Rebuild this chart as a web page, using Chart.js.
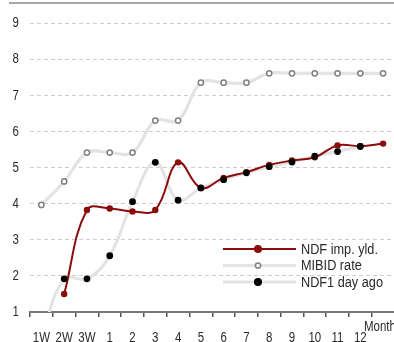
<!DOCTYPE html>
<html>
<head>
<meta charset="utf-8">
<script src="https://cdn.jsdelivr.net/npm/chart.js@4.4.1/dist/chart.umd.min.js"></script>
<style>
  html, body { margin: 0; padding: 0; background: #fff; overflow: hidden; width: 394px; height: 342px; }
  #wrap { position: relative; width: 400px; height: 342px; }
</style>
</head>
<body>
<div id="wrap"><canvas id="chart" width="400" height="342"></canvas></div>
<script>
// Tenor buckets along the curve (last slot sits under the "Month" caption)
const tenors = ['1W', '2W', '3W', '1', '2', '3', '4', '5', '6', '7', '8', '9', '10', '11', '12', ''];

// Yields, %
const ndfImpYld  = [null, 1.50, 3.83, 3.87, 3.79, 3.83, 5.15, 4.44, 4.72, 4.88, 5.08, 5.20, 5.29, 5.62, 5.60, 5.67];
const mibidRate  = [3.97, 4.62, 5.42, 5.42, 5.42, 6.31, 6.31, 7.36, 7.36, 7.36, 7.62, 7.62, 7.62, 7.62, 7.62, 7.62];
const ndf1DayAgo = [0.30, 1.92, 1.92, 2.56, 4.06, 5.15, 4.10, 4.44, 4.67, 4.86, 5.03, 5.16, 5.32, 5.45, 5.59, null];

const yMin = 1, yMax = 9.5, yStep = 1;

const RED = '#8b0c0c';
const LIGHT = '#e3e3e3';
const MARK_GREY = '#808080';
const FONT = "'Liberation Sans', Arial, sans-serif";
const TEXT = '#2a2a2a';
const NARROW = 0.82;   // horizontal squeeze giving a narrow face

const legendItems = [
  { text: 'NDF imp. yld.', line: RED,   lineWidth: 2, fill: RED,    stroke: RED },
  { text: 'MIBID rate',    line: LIGHT, lineWidth: 3, fill: '#fff', stroke: MARK_GREY },
  { text: 'NDF1 day ago',  line: LIGHT, lineWidth: 3, fill: '#000', stroke: '#000' }
];

const canvas = document.getElementById('chart');
const ctx2d = canvas.getContext('2d');

// Draw every label condensed, anchored at its own position
(function condenseText(ctx) {
  const orig = ctx.fillText.bind(ctx);
  ctx.fillText = function (text, x, y, maxWidth) {
    ctx.save();
    ctx.translate(x, y);
    ctx.scale(NARROW, 1);
    if (maxWidth === undefined || maxWidth === null) orig(text, 0, 0);
    else orig(text, 0, 0, maxWidth / NARROW);
    ctx.restore();
  };
})(ctx2d);

// Rule above the plot, inline legend and the "Month" caption
const decorations = {
  id: 'decorations',
  afterDraw(chart) {
    const ctx = chart.ctx;
    ctx.save();
    ctx.strokeStyle = '#a8a8a8';
    ctx.lineWidth = 2;
    ctx.beginPath();
    ctx.moveTo(9, 3);
    ctx.lineTo(chart.width, 3);
    ctx.stroke();

    ctx.font = '15.5px ' + FONT;
    ctx.textBaseline = 'middle';
    ctx.textAlign = 'left';
    legendItems.forEach((it, i) => {
      const y = 249 + i * 16.5;
      ctx.strokeStyle = it.line;
      ctx.lineWidth = it.lineWidth;
      ctx.beginPath();
      ctx.moveTo(223, y);
      ctx.lineTo(296, y);
      ctx.stroke();
      ctx.beginPath();
      ctx.arc(258, y, i === 1 ? 2.6 : 3.3, 0, Math.PI * 2);
      ctx.fillStyle = it.fill;
      ctx.fill();
      ctx.lineWidth = 1.5;
      ctx.strokeStyle = it.stroke;
      ctx.stroke();
      ctx.fillStyle = TEXT;
      ctx.fillText(it.text, 301, y + 0.5);
    });

    ctx.font = '14px ' + FONT;
    ctx.textBaseline = 'alphabetic';
    ctx.fillText('Month', 364, 331);
    ctx.restore();
  }
};

new Chart(canvas, {
  type: 'line',
  data: {
    labels: tenors,
    datasets: [
      {
        label: 'NDF1 day ago',
        data: ndf1DayAgo,
        showLine: false,
        pointRadius: 3.4,
        pointBackgroundColor: '#000',
        pointBorderColor: '#000',
        pointBorderWidth: 0,
        order: 0
      },
      {
        label: 'NDF imp. yld.',
        data: ndfImpYld,
        borderColor: RED,
        borderWidth: 2,
        tension: 0.4,
        pointRadius: 3.2,
        pointBackgroundColor: RED,
        pointBorderColor: RED,
        pointBorderWidth: 0,
        order: 1
      },
      {
        label: 'NDF1 day ago line',
        data: ndf1DayAgo,
        borderColor: LIGHT,
        borderWidth: 3,
        tension: 0.4,
        pointRadius: 0,
        order: 2
      },
      {
        label: 'MIBID rate',
        data: mibidRate,
        borderColor: LIGHT,
        borderWidth: 3.2,
        tension: 0.4,
        pointRadius: 2.6,
        pointBackgroundColor: '#fff',
        pointBorderColor: MARK_GREY,
        pointBorderWidth: 1.5,
        order: 3
      }
    ]
  },
  options: {
    responsive: false,
    animation: false,
    events: [],
    layout: { padding: { top: 3, right: 1, left: 0, bottom: 0 } },
    plugins: { legend: { display: false }, tooltip: { enabled: false } },
    scales: {
      x: {
        offset: true,
        afterFit(scale) {
          scale.height = 30;
          scale.paddingLeft = 0;
          scale.paddingRight = 0;
        },
        grid: {
          offset: true,
          drawOnChartArea: false,
          drawTicks: true,
          tickLength: 5,
          color: '#555',
          lineWidth: 1.5
        },
        border: { display: true, color: '#7a7a7a', width: 2 },
        ticks: {
          autoSkip: false,
          maxRotation: 0,
          padding: 13,
          color: TEXT,
          font: { family: FONT, size: 14 }
        }
      },
      y: {
        min: yMin,
        max: yMax,
        afterFit(scale) {
          scale.width = 30;
          scale.paddingTop = 0;
          scale.paddingBottom = 0;
        },
        grid: {
          drawTicks: false,
          color: '#cdcdcd',
          lineWidth: 1
        },
        border: { display: false, dash: [4, 3] },
        ticks: {
          stepSize: yStep,
          includeBounds: false,
          padding: 11,
          color: TEXT,
          font: { family: FONT, size: 14 }
        }
      }
    }
  },
  plugins: [decorations]
});
</script>
</body>
</html>
